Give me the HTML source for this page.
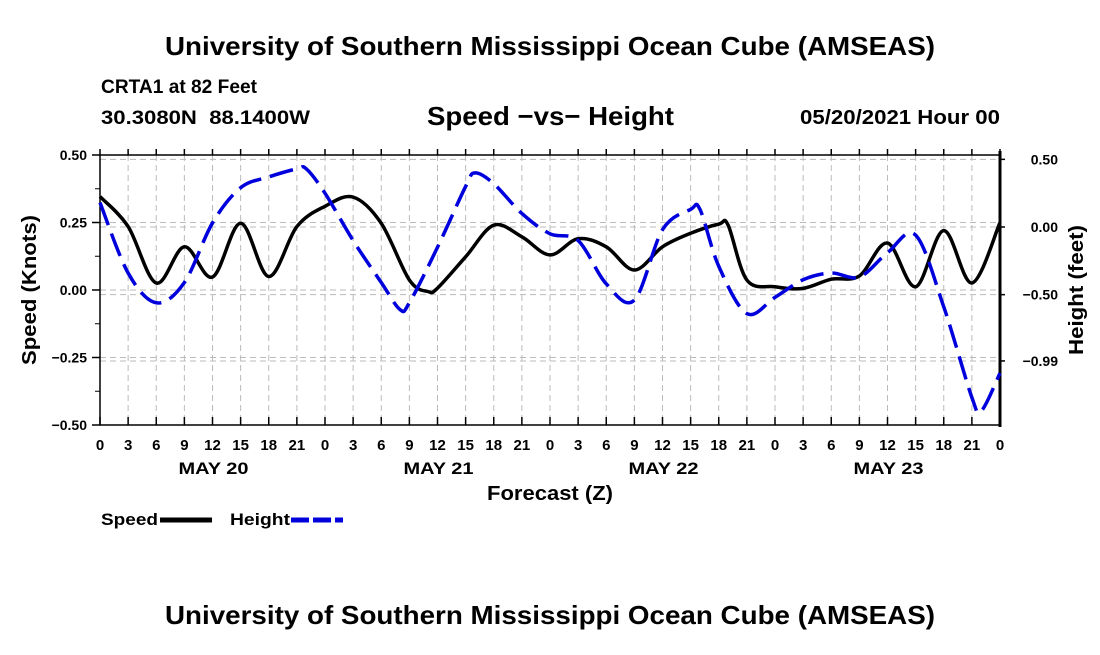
<!DOCTYPE html>
<html><head><meta charset="utf-8"><style>
body{margin:0;background:#fff;}
svg text{font-family:"Liberation Sans",Arial,sans-serif;font-weight:bold;fill:#000;white-space:pre;}
</style></head><body>
<svg width="1100" height="650" viewBox="0 0 1100 650" id="c">
<text x="165" y="55" font-size="26" textLength="770" lengthAdjust="spacingAndGlyphs">University of Southern Mississippi Ocean Cube (AMSEAS)</text>
<text x="101" y="93" font-size="19" textLength="156" lengthAdjust="spacingAndGlyphs">CRTA1 at 82 Feet</text>
<text x="101" y="124" font-size="19" textLength="209" lengthAdjust="spacingAndGlyphs">30.3080N  88.1400W</text>
<text x="427" y="125" font-size="26" textLength="247" lengthAdjust="spacingAndGlyphs">Speed −vs− Height</text>
<text x="800" y="124" font-size="20" textLength="200" lengthAdjust="spacingAndGlyphs">05/20/2021 Hour 00</text>
<g id="grid"></g>
<g id="axes"></g>
<g id="series"></g>
<text transform="translate(36,365) rotate(-90)" font-size="20" textLength="150" lengthAdjust="spacingAndGlyphs">Speed (Knots)</text>
<text transform="translate(1083,355) rotate(-90)" font-size="20" textLength="130" lengthAdjust="spacingAndGlyphs">Height (feet)</text>
<text x="487" y="500" font-size="20" textLength="126" lengthAdjust="spacingAndGlyphs">Forecast (Z)</text>
<g>
<text x="101" y="525" font-size="17" textLength="57" lengthAdjust="spacingAndGlyphs">Speed</text>
<line x1="160" y1="520" x2="212" y2="520" stroke="#000" stroke-width="5"/>
<text x="230" y="525" font-size="17" textLength="60" lengthAdjust="spacingAndGlyphs">Height</text>
<line x1="291" y1="520" x2="343" y2="520" stroke="#0000dd" stroke-width="5" stroke-dasharray="18,4"/>
</g>
<text x="165" y="624" font-size="26" textLength="770" lengthAdjust="spacingAndGlyphs">University of Southern Mississippi Ocean Cube (AMSEAS)</text>
</svg>
<script>
const speedHours=[0,3,6,9,12,15,18,21,24,27,30,33,35,36,39,42,45,48,51,54,57,60,63,66,67,69,72,75,78,81,84,87,90,93,96];
const speedValues=[0.346,0.235,0.026,0.16,0.048,0.247,0.05,0.235,0.31,0.344,0.247,0.037,-0.006,0.007,0.123,0.24,0.197,0.13,0.19,0.16,0.074,0.16,0.21,0.244,0.24,0.037,0.012,0.006,0.04,0.052,0.174,0.012,0.22,0.026,0.25];
const heightHours=[0,3,6,9,12,15,18,21,22,24,27,30,32,33,36,39,40,42,45,48,51,54,57,60,63,64,66,69,72,75,78,81,84,87,90,93,94,96];
const heightValues=[0.18,-0.34,-0.56,-0.41,0.03,0.29,0.37,0.43,0.43,0.25,-0.1,-0.41,-0.61,-0.56,-0.15,0.3,0.4,0.32,0.1,-0.05,-0.1,-0.42,-0.54,-0.02,0.13,0.13,-0.29,-0.64,-0.52,-0.39,-0.34,-0.37,-0.19,-0.06,-0.59,-1.26,-1.36,-1.08];
const hourTickLabels=["0","3","6","9","12","15","18","21","0","3","6","9","12","15","18","21","0","3","6","9","12","15","18","21","0","3","6","9","12","15","18","21","0"];
const dayLabels=["MAY 20","MAY 21","MAY 22","MAY 23"];
const leftTicks=[0.5,0.25,0,-0.25,-0.5];
const leftTickLabels=["0.50","0.25","0.00","\u22120.25","\u22120.50"];
const rightTicks=[0.5,0,-0.5,-0.99];
const rightTickLabels=["0.50","0.00","\u22120.50","\u22120.99"];

const L=100,R=1000,T=155,B=425;
const x=h=>L+h*(R-L)/96;
const yL=v=>T+(0.5-v)*(B-T);
const yR=v=>227-v*135.3;
const NS="http://www.w3.org/2000/svg";
function mk(tag,attrs,parent,txt){const e=document.createElementNS(NS,tag);for(const k in attrs)e.setAttribute(k,attrs[k]);if(txt!==undefined)e.textContent=txt;parent.appendChild(e);return e;}
const grid=document.getElementById('grid'),axes=document.getElementById('axes'),series=document.getElementById('series');
const gs={stroke:"#bbb","stroke-width":1,"stroke-dasharray":"6,4"};
hourTickLabels.forEach((t,i)=>{const xx=x(i*3);
 if(i>0&&i<32){const g=mk('line',Object.assign({x1:xx,x2:xx,y1:T,y2:B},gs),grid);}
 const tk=mk('line',{x1:xx,x2:xx,y1:B,y2:B-8,stroke:"#000","stroke-width":1.5},axes);
 const tk2=mk('line',{x1:xx,x2:xx,y1:T,y2:T-6,stroke:"#000","stroke-width":1.5},axes);
 const lb=mk('text',{x:xx,y:450,"font-size":15,"text-anchor":"middle"},axes,t);
});
dayLabels.forEach((d,i)=>{const lb=mk('text',{x:x(i*24+12)+1,y:474,"font-size":17,"text-anchor":"middle",textLength:70,lengthAdjust:"spacingAndGlyphs"},axes,d);});
leftTicks.forEach((v,i)=>{const yy=yL(v);
 if(i>0&&i<leftTicks.length-1){const g=mk('line',Object.assign({x1:L,x2:R,y1:yy,y2:yy},gs),grid);}
 const tk=mk('line',{x1:L-8,x2:L,y1:yy,y2:yy,stroke:"#000","stroke-width":1.5},axes);
 const lb=mk('text',{x:L-13,y:yy+5,"font-size":14,"text-anchor":"end"},axes,leftTickLabels[i]);
});
for(let v=0.375;v>-0.5;v-=0.25){const yy=yL(v);const tk=mk('line',{x1:L-5,x2:L,y1:yy,y2:yy,stroke:"#000","stroke-width":1},axes);}
rightTicks.forEach((v,i)=>{const yy=yR(v);
 const g=mk('line',Object.assign({x1:L,x2:R,y1:yy,y2:yy},gs),grid);
 const tk=mk('line',{x1:R,x2:R+5,y1:yy,y2:yy,stroke:"#000","stroke-width":1.5},axes);
 const lb=mk('text',{x:1058,y:yy+5,"font-size":14,"text-anchor":"end"},axes,rightTickLabels[i]);
});
const fr=mk('rect',{x:L,y:T,width:R-L,height:B-T,fill:"none",stroke:"#000","stroke-width":1.5},axes);
const ra=mk('line',{x1:R,x2:R,y1:T-4,y2:B+2,stroke:"#000","stroke-width":3},axes);
function smooth(pts){let d=`M${pts[0][0]},${pts[0][1]}`;for(let i=0;i<pts.length-1;i++){const p0=pts[Math.max(i-1,0)],p1=pts[i],p2=pts[i+1],p3=pts[Math.min(i+2,pts.length-1)];
 d+=` C${p1[0]+(p2[0]-p0[0])/6},${p1[1]+(p2[1]-p0[1])/6} ${p2[0]-(p3[0]-p1[0])/6},${p2[1]-(p3[1]-p1[1])/6} ${p2[0]},${p2[1]}`;}return d;}
const sp=mk('path',{d:smooth(speedHours.map((h,i)=>[x(h),yL(speedValues[i])])),fill:"none",stroke:"#000","stroke-width":3.5},series);

const hp=mk('path',{d:smooth(heightHours.map((h,i)=>[x(h),yR(heightValues[i])])),fill:"none",stroke:"#0000dd","stroke-width":3.5,"stroke-dasharray":"24,9"},series);

</script>
</body></html>
